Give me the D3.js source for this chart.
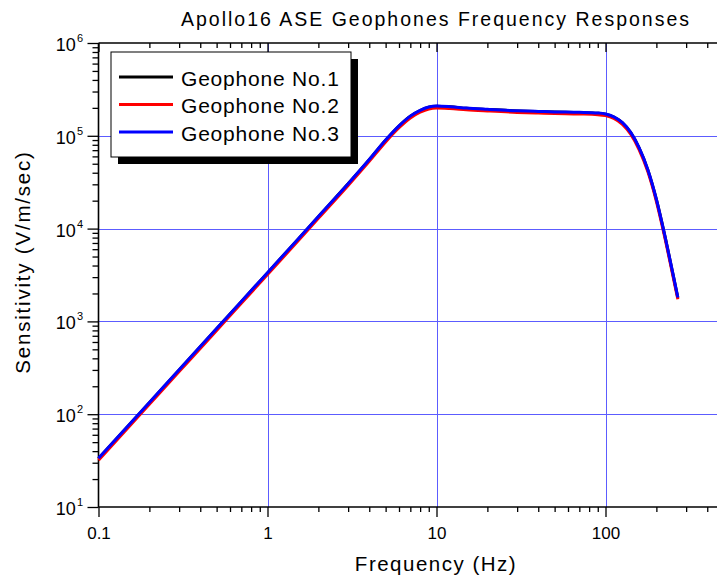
<!DOCTYPE html>
<html>
<head>
<meta charset="utf-8">
<script src="https://cdn.jsdelivr.net/npm/d3@7"></script>
<style>
  html, body { margin: 0; padding: 0; background: #fff; }
  svg text { font-family: "Liberation Sans", Arial, sans-serif; fill: #000; }
</style>
</head>
<body>
<svg id="chart" width="717" height="579"></svg>
<script>
// ---- Data ----
const freqHz = [0.1, 0.2, 0.3, 0.5, 0.7, 1, 1.5, 2, 3, 4, 5, 6, 7, 8, 9, 10, 12, 15, 20, 30, 40, 50, 70, 90, 100, 112, 126, 141, 158, 178, 200, 224, 251, 268];
const geophone1 = [33.3, 133, 300, 833, 1630, 3330, 7510, 13430, 30350, 55200, 89500, 127300, 162200, 187000, 203000, 208000, 205000, 198000, 192000, 185000, 182000, 180000, 178000, 175000, 171000, 159000, 137800, 108200, 74000, 42900, 20600, 8500, 3190, 1800];
const geophone2 = [32, 128, 288, 800, 1566, 3200, 7210, 12890, 29130, 53000, 85950, 122200, 155700, 179500, 194800, 199600, 197000, 191000, 185300, 178600, 175700, 173800, 171800, 169000, 165000, 153600, 132700, 104000, 71000, 41100, 19700, 8130, 3050, 1730];
const geophone3 = [33.5, 134, 302, 838, 1640, 3350, 7550, 13500, 30500, 55500, 90000, 128000, 163000, 188000, 204000, 209000, 206000, 199000, 193000, 186000, 183000, 181000, 179000, 176000, 172000, 160000, 138500, 108800, 74400, 43100, 20700, 8540, 3210, 1810];

const seriesNames = ["Geophone No.1", "Geophone No.2", "Geophone No.3"];
const seriesColors = ["#000000", "#ff0000", "#0000ff"];
const seriesValues = [geophone1, geophone2, geophone3];

const xMajorTicks = [0.1, 1, 10, 100];
const xTickLabels = ["0.1", "1", "10", "100"];
const yMajorExponents = [1, 2, 3, 4, 5, 6];

const titleText = "Apollo16 ASE Geophones Frequency Responses";
const xAxisTitle = "Frequency (Hz)";
const yAxisTitle = "Sensitivity (V/m/sec)";

// ---- Layout ----
const W = 717, H = 579;
const plotLeft = 98.5, plotTop = 43, plotBottom = 507;
const decadeX = 169;
const plotRight = W;

const svg = d3.select("#chart");

const x = d3.scaleLog().domain([0.1, Math.pow(10, (plotRight - plotLeft) / decadeX - 1)]).range([plotLeft, plotRight]);
const y = d3.scaleLog().domain([10, 1e6]).range([plotBottom, plotTop]);

// minor tick values
const xMinor = [];
for (let e = -1; e <= 2; e++) for (let m = 2; m <= 9; m++) {
  const v = m * Math.pow(10, e);
  if (x(v) < plotRight - 1) xMinor.push(v);
}
const yMinor = [];
for (let e = 1; e <= 5; e++) for (let m = 2; m <= 9; m++) yMinor.push(m * Math.pow(10, e));

// ---- Grid ----
const gridColor = "#5c5cff";
const grid = svg.append("g");
grid.selectAll("line.gx").data(xMajorTicks.slice(1)).join("line")
  .attr("x1", d => Math.round(x(d)) + 0.5).attr("x2", d => Math.round(x(d)) + 0.5)
  .attr("y1", plotTop).attr("y2", plotBottom)
  .attr("stroke", gridColor).attr("stroke-width", 1);
grid.selectAll("line.gy").data(yMajorExponents.slice(1, -1).map(e => Math.pow(10, e))).join("line")
  .attr("x1", plotLeft).attr("x2", plotRight)
  .attr("y1", d => Math.round(y(d)) + 0.5).attr("y2", d => Math.round(y(d)) + 0.5)
  .attr("stroke", gridColor).attr("stroke-width", 1);

// ---- Axes ----
// bottom axis (ticks outward)
svg.append("g").attr("transform", `translate(0,${plotBottom})`)
  .call(d3.axisBottom(x).tickValues(xMinor).tickSize(5).tickFormat(""));
svg.append("g").attr("transform", `translate(0,${plotBottom})`)
  .call(d3.axisBottom(x).tickValues(xMajorTicks).tickSize(10).tickFormat((d, i) => xTickLabels[i]))
  .call(g => g.selectAll("text").attr("y", 20).attr("dy", "0.71em").style("font-size", "17px"));
// top axis (ticks inward)
svg.append("g").attr("transform", `translate(0,${plotTop})`)
  .call(d3.axisBottom(x).tickValues(xMinor).tickSize(5).tickFormat(""));
svg.append("g").attr("transform", `translate(0,${plotTop})`)
  .call(d3.axisBottom(x).tickValues(xMajorTicks).tickSize(9).tickFormat(""));
// left axis (ticks outward)
svg.append("g").attr("transform", `translate(${plotLeft},0)`)
  .call(d3.axisLeft(y).tickValues(yMinor).tickSize(6).tickFormat(""));
svg.append("g").attr("transform", `translate(${plotLeft},0)`)
  .call(d3.axisLeft(y).tickValues(yMajorExponents.map(e => Math.pow(10, e))).tickSize(11).tickFormat(""));

svg.selectAll(".tick line").attr("stroke", "#000").attr("stroke-width", 1.3);
svg.selectAll(".domain").remove();
const axisLines = svg.append("g").attr("stroke", "#000").attr("stroke-width", 1.6);
axisLines.append("line").attr("x1", plotLeft).attr("x2", plotRight).attr("y1", plotBottom).attr("y2", plotBottom);
axisLines.append("line").attr("x1", plotLeft).attr("x2", plotRight).attr("y1", plotTop).attr("y2", plotTop);
axisLines.append("line").attr("x1", plotLeft).attr("x2", plotLeft).attr("y1", plotTop).attr("y2", plotBottom);

// y tick labels 10^n
const yLab = svg.append("g");
yMajorExponents.forEach(e => {
  const t = yLab.append("text").attr("x", 83).attr("y", y(Math.pow(10, e)) + 8)
    .attr("text-anchor", "end").style("font-size", "18px");
  t.append("tspan").text("10");
  t.append("tspan").attr("dy", -9).attr("dx", 1).style("font-size", "11px").text(String(e));
});

// ---- Curves ----
const line = d3.line().x(d => x(d[0])).y(d => y(d[1])).curve(d3.curveMonotoneX);
const curves = svg.append("g");
seriesValues.forEach((vals, i) => {
  curves.append("path")
    .datum(freqHz.map((f, j) => [f, vals[j]]))
    .attr("d", line).attr("fill", "none")
    .attr("stroke", seriesColors[i]).attr("stroke-width", 3)
    .attr("stroke-linejoin", "round");
});

// ---- Legend ----
const lg = svg.append("g");
const lgX = 111, lgY = 52, lgW = 240, lgH = 105, sh = 7;
lg.append("rect").attr("x", lgX + sh).attr("y", lgY + sh).attr("width", lgW).attr("height", lgH).attr("fill", "#000");
lg.append("rect").attr("x", lgX).attr("y", lgY).attr("width", lgW).attr("height", lgH)
  .attr("fill", "#fff").attr("stroke", "#000").attr("stroke-width", 1);
seriesNames.forEach((name, i) => {
  const ly = 77 + i * 27.5;
  lg.append("line").attr("x1", 119).attr("x2", 173).attr("y1", ly).attr("y2", ly)
    .attr("stroke", seriesColors[i]).attr("stroke-width", 3);
  lg.append("text").attr("x", 181).attr("y", ly + 8.5)
    .style("font-size", "21px").style("letter-spacing", "0.8px").text(name);
});

// ---- Titles ----
svg.append("text").attr("x", 436).attr("y", 26).attr("text-anchor", "middle")
  .style("font-size", "19.5px").style("letter-spacing", "2px").text(titleText);
svg.append("text").attr("x", 436).attr("y", 571).attr("text-anchor", "middle")
  .style("font-size", "20.5px").style("letter-spacing", "1.5px").text(xAxisTitle);
svg.append("text").attr("transform", "translate(30,262) rotate(-90)").attr("text-anchor", "middle")
  .style("font-size", "20.5px").style("letter-spacing", "1.8px").text(yAxisTitle);
</script>
</body>
</html>
